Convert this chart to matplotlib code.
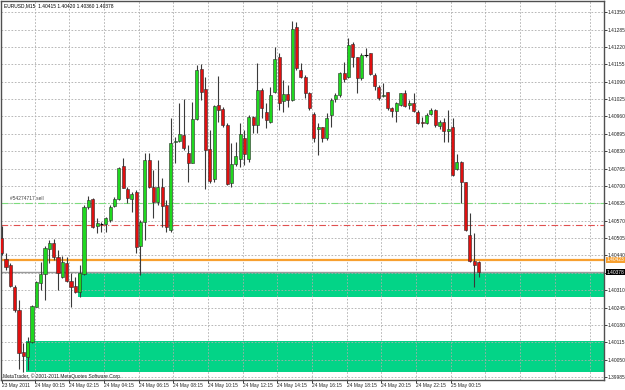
import numpy as np
import matplotlib
matplotlib.use('Agg')
from matplotlib import pyplot as plt
from matplotlib.patches import Rectangle

plt.rcParams['font.family'] = ['Liberation Sans', 'DejaVu Sans']

# EURUSD M15 bars, 23 May 22:15 .. 25 May 01:45
opens = [1.40505, 1.40427, 1.40404, 1.40323, 1.40236, 1.40080, 1.40061, 1.40117, 1.40248, 1.40336,
         1.40371, 1.40464, 1.40486, 1.40435, 1.40361, 1.40411, 1.40346, 1.40326, 1.40305, 1.40371,
         1.40620, 1.40650, 1.40550, 1.40558, 1.40558, 1.40573, 1.40625, 1.40650, 1.40775, 1.40689,
         1.40650, 1.40679, 1.40477, 1.40564, 1.40797, 1.40697, 1.40641, 1.40695, 1.40630, 1.40535,
         1.40864, 1.40869, 1.40891, 1.40822, 1.40787, 1.40950, 1.41138, 1.41062, 1.40838, 1.40725,
         1.41002, 1.40988, 1.40927, 1.40710, 1.40782, 1.40800, 1.40879, 1.40801, 1.40959, 1.40928,
         1.41059, 1.40978, 1.40941, 1.41053, 1.41182, 1.41019, 1.41043, 1.41022, 1.41296, 1.41134,
         1.41107, 1.41047, 1.40968, 1.40912, 1.40920, 1.40879, 1.40966, 1.41024, 1.41041, 1.41124,
         1.41109, 1.41230, 1.41182, 1.41103, 1.41190, 1.41197, 1.41115, 1.41069, 1.41036, 1.41051,
         1.40993, 1.40982, 1.41003, 1.41049, 1.41002, 1.41009, 1.40978, 1.40941, 1.40935, 1.40968,
         1.40984, 1.40926, 1.40941, 1.40906, 1.40920, 1.40763, 1.40791, 1.40714, 1.40517, 1.40420,
         1.40415]
highs = [1.40550, 1.40449, 1.40412, 1.40330, 1.40273, 1.40114, 1.40136, 1.40255, 1.40344, 1.40416,
         1.40475, 1.40498, 1.40500, 1.40460, 1.40438, 1.40433, 1.40373, 1.40361, 1.40404, 1.40629,
         1.40664, 1.40654, 1.40579, 1.40566, 1.40585, 1.40629, 1.40660, 1.40772, 1.40804, 1.40697,
         1.40679, 1.40685, 1.40573, 1.40822, 1.40822, 1.40760, 1.40797, 1.40729, 1.40648, 1.40953,
         1.40883, 1.41009, 1.41024, 1.40853, 1.41015, 1.41153, 1.41157, 1.41109, 1.40910, 1.41003,
         1.41112, 1.40997, 1.40935, 1.40860, 1.40866, 1.40935, 1.40910, 1.40966, 1.40962, 1.41159,
         1.41066, 1.41009, 1.41072, 1.41221, 1.41197, 1.41097, 1.41078, 1.41319, 1.41313, 1.41159,
         1.41115, 1.41053, 1.40978, 1.40935, 1.40922, 1.40972, 1.41028, 1.41047, 1.41128, 1.41165,
         1.41253, 1.41240, 1.41184, 1.41197, 1.41215, 1.41199, 1.41122, 1.41078, 1.41084, 1.41053,
         1.40997, 1.41015, 1.41049, 1.41059, 1.41022, 1.41047, 1.40984, 1.40959, 1.40972, 1.40991,
         1.40987, 1.40947, 1.40953, 1.40984, 1.40953, 1.40820, 1.40794, 1.40716, 1.40600, 1.40523,
         1.40420]
lows = [1.40442, 1.40386, 1.40323, 1.40230, 1.40015, 1.40005, 1.40011, 1.40112, 1.40247, 1.40311,
        1.40273, 1.40411, 1.40423, 1.40311, 1.40355, 1.40342, 1.40248, 1.40299, 1.40286, 1.40367,
        1.40613, 1.40542, 1.40523, 1.40529, 1.40529, 1.40566, 1.40620, 1.40648, 1.40691, 1.40635,
        1.40604, 1.40448, 1.40367, 1.40498, 1.40691, 1.40579, 1.40629, 1.40548, 1.40529, 1.40529,
        1.40785, 1.40866, 1.40835, 1.40716, 1.40785, 1.40947, 1.41022, 1.40688, 1.40710, 1.40716,
        1.40941, 1.40922, 1.40704, 1.40697, 1.40775, 1.40772, 1.40779, 1.40790, 1.40897, 1.40897,
        1.40953, 1.40916, 1.40935, 1.41047, 1.40984, 1.40978, 1.40997, 1.41019, 1.41134, 1.41103,
        1.41028, 1.40984, 1.40866, 1.40816, 1.40866, 1.40872, 1.40922, 1.41015, 1.41032, 1.41090,
        1.41103, 1.41146, 1.41047, 1.41097, 1.41184, 1.41115, 1.41059, 1.41022, 1.41033, 1.40984,
        1.40959, 1.40941, 1.40999, 1.40997, 1.40987, 1.40978, 1.40932, 1.40920, 1.40931, 1.40966,
        1.40922, 1.40912, 1.40866, 1.40866, 1.40737, 1.40760, 1.40638, 1.40533, 1.40417, 1.40323,
        1.40360]
closes = [1.40449, 1.40396, 1.40326, 1.40236, 1.40076, 1.40064, 1.40117, 1.40252, 1.40342, 1.40371,
          1.40467, 1.40486, 1.40435, 1.40376, 1.40417, 1.40346, 1.40323, 1.40305, 1.40373, 1.40623,
          1.40648, 1.40548, 1.40560, 1.40558, 1.40579, 1.40623, 1.40650, 1.40766, 1.40694, 1.40654,
          1.40669, 1.40473, 1.40564, 1.40797, 1.40697, 1.40639, 1.40695, 1.40626, 1.40548, 1.40860,
          1.40868, 1.40893, 1.40841, 1.40785, 1.40950, 1.41134, 1.41053, 1.40835, 1.40720, 1.40999,
          1.40984, 1.40928, 1.40708, 1.40782, 1.40812, 1.40895, 1.40819, 1.40959, 1.40928, 1.41059,
          1.40991, 1.40947, 1.41041, 1.41174, 1.41009, 1.41043, 1.41022, 1.41288, 1.41140, 1.41109,
          1.41049, 1.40991, 1.40879, 1.40920, 1.40879, 1.40953, 1.41022, 1.41041, 1.41122, 1.41099,
          1.41228, 1.41182, 1.41103, 1.41190, 1.41190, 1.41119, 1.41074, 1.41028, 1.41041, 1.40991,
          1.40982, 1.41009, 1.41047, 1.41000, 1.41012, 1.40982, 1.40935, 1.40937, 1.40966, 1.40984,
          1.40928, 1.40941, 1.40907, 1.40912, 1.40741, 1.40791, 1.40714, 1.40535, 1.40420, 1.40403,
          1.40378]

price_ticks = [1.41350 - 0.00065 * k for k in range(22)]
time_labels = ['23 May 2011', '24 May 00:15', '24 May 02:15', '24 May 04:15', '24 May 06:15',
               '24 May 08:15', '24 May 10:15', '24 May 12:15', '24 May 14:15', '24 May 16:15',
               '24 May 18:15', '24 May 20:15', '24 May 22:15', '25 May 00:15']
time_label_bars = [0, 7.6, 15.6, 23.6, 31.6, 39.6, 47.6, 55.6, 63.6, 71.6, 79.6, 87.6, 95.6, 103.6]

sell_level = 1.40638
stop_level = 1.40555
orange_level = 1.40423
bid = 1.40378
zone_upper = (18, 1.40283, 1.40378)   # start bar, bottom, top
zone_lower = (6, 1.40005, 1.40120)
order_text = '#54274717 sell'
title = 'EURUSD,M15  1.40415 1.40420 1.40360 1.40378'

fs = 3.5
fig = plt.figure(figsize=(6.25, 3.9), dpi=100)
ax = fig.add_axes([1 / 625, 10 / 390, 603 / 625, 379 / 390])
xmin, xmax = -0.16, 138.94
ax.set_xlim(xmin, xmax)
ax.set_ylim(1.39974, 1.41392)

green_zone = '#03d487'
for start, lo, hi in (zone_upper, zone_lower):
    ax.add_patch(Rectangle((start - 0.4, lo), xmax - start + 1, hi - lo,
                           facecolor=green_zone, edgecolor='none', zorder=0.5))

gridc = '#acacac'
for p in price_ticks:
    ax.axhline(p, color=gridc, lw=0.6, ls=(0, (2, 2)), zorder=1)
for k in range(1, 18):
    ax.axvline(8 * k - 0.4, color=gridc, lw=0.6, ls=(0, (2, 2)), zorder=1)

ax.axhline(sell_level, color='#7ddc7d', lw=0.8, ls=(0, (6, 2, 1, 2)), zorder=2)
ax.axhline(stop_level, color='#e05050', lw=0.8, ls=(0, (6, 2, 1, 2)), zorder=2)
ax.axhline(orange_level, color='#f7a030', lw=1.6, zorder=2)
ax.axhline(bid, color='#9a9a9a', lw=1.0, zorder=2)

o = np.array(opens)
h = np.array(highs)
l = np.array(lows)
c = np.array(closes)
idx = np.arange(len(o))
ax.vlines(idx, l, h, color='#3a3a3a', lw=0.8, zorder=3)
up = c > o
down = c < o
flat = c == o
ax.bar(idx[up], c[up] - o[up], bottom=o[up], width=0.72, color='#1fd81f',
       edgecolor='#2a2a2a', linewidth=0.4, zorder=4)
ax.bar(idx[down], o[down] - c[down], bottom=c[down], width=0.72, color='#e01010',
       edgecolor='#2a2a2a', linewidth=0.4, zorder=4)
ax.hlines(o[flat], idx[flat] - 0.4, idx[flat] + 0.4, color='black', lw=0.8, zorder=4)

for s in ax.spines.values():
    s.set_color('#505050')
    s.set_linewidth(1)

ax.yaxis.tick_right()
ax.set_yticks(price_ticks)
ax.set_yticklabels(['%.5f' % p for p in price_ticks])
ax.tick_params(axis='y', length=2, width=0.6, pad=0.6, labelsize=fs, colors='#202020')
ax.set_xticks(time_label_bars)
ax.set_xticklabels(time_labels)
ax.tick_params(axis='x', length=2, width=0.6, pad=0.5, labelsize=fs, colors='#202020')
for t in ax.get_xticklabels():
    t.set_horizontalalignment('left')

ax.text(0.005, 0.995, title, transform=ax.transAxes, fontsize=fs, va='top', ha='left')
ax.text(2, sell_level + 0.00004, order_text, fontsize=fs, color='#404040', va='bottom', ha='left')
ax.text(0.004, 0.003, 'MetaTrader, \u00a9 2001-2011 MetaQuotes Software Corp.', transform=ax.transAxes,
        fontsize=fs, va='bottom', ha='left', color='#202020')

ax.text(1.004, orange_level, '%.5f' % orange_level, transform=ax.get_yaxis_transform(), fontsize=fs,
        va='center', ha='left', color='white', zorder=6,
        bbox=dict(boxstyle='square,pad=0.12', facecolor='#f7a030', edgecolor='none'), clip_on=False)
ax.text(1.004, bid, '%.5f' % bid, transform=ax.get_yaxis_transform(), fontsize=fs,
        va='center', ha='left', color='white', zorder=6,
        bbox=dict(boxstyle='square,pad=0.12', facecolor='black', edgecolor='none'), clip_on=False)

fig.savefig('out.png', dpi=100, facecolor='white')
